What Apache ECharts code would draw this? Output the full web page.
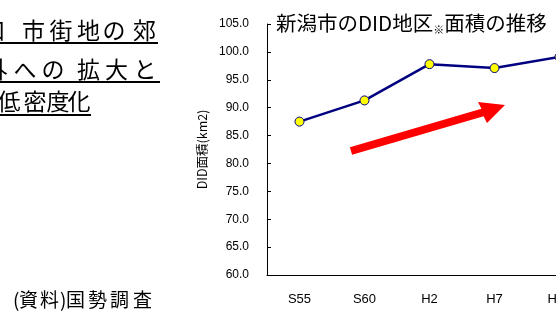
<!DOCTYPE html>
<html>
<head>
<meta charset="utf-8">
<script src="https://cdn.jsdelivr.net/npm/echarts@6/dist/echarts.min.js"></script>
<style>
  html, body { margin: 0; padding: 0; background: #fff; }
  #chart { width: 556px; height: 321px; }
</style>
</head>
<body>
<div id="chart"></div>
<script>
// DID area of Niigata city by census year
const years = ['S55', 'S60', 'H2', 'H7', 'H12'];
const didArea = [87.5, 91.3, 97.8, 97.1, 99.1];
const yTicks = { min: 60, max: 105, step: 5 };

const titleText = '新潟市のDID地区{s|※}面積の推移';
const yName = 'DID面積(km2)';
const sourceNote = '(資料)国勢調査';

const JP = '"Noto Sans CJK JP", sans-serif';
const LAT = '"Liberation Sans", Arial, sans-serif';

// headline, placed glyph by glyph: [char, centre x]
const headline = [
  { y: 30, chars: [['口', -6], ['市', 33.5], ['街', 61], ['地', 88.5], ['の', 114], ['郊', 144.5]], rule: [0, 158, 43] },
  { y: 69, chars: [['外', -4], ['へ', 25], ['の', 53], ['拡', 88.5], ['大', 116.5], ['と', 145]], rule: [0, 160, 82] },
  { y: 101, chars: [['低', 9], ['密', 35], ['度', 58], ['化', 79]], rule: [0, 91, 115] }
];

// source note, glyph by glyph: [char, left x]
const noteChars = [['(', 13], ['資', 19], ['料', 40], [')', 60], ['国', 66], ['勢', 88], ['調', 110], ['査', 133]];

const graphics = [];
headline.forEach(line => {
  line.chars.forEach(([ch, cx]) => {
    graphics.push({
      type: 'text', x: cx, y: line.y,
      style: { text: ch, font: '23px ' + JP, fill: '#000', textAlign: 'center', textVerticalAlign: 'middle' }
    });
  });
  graphics.push({
    type: 'line',
    shape: { x1: line.rule[0], y1: line.rule[2], x2: line.rule[1], y2: line.rule[2] },
    style: { stroke: '#000', lineWidth: 2 }
  });
});

noteChars.forEach(([ch, lx]) => {
  graphics.push({
    type: 'text', x: lx, y: 300,
    style: { text: ch, font: '19px ' + JP, fill: '#000', textAlign: 'left', textVerticalAlign: 'middle' }
  });
});

// trend arrow
graphics.push({
  type: 'polygon',
  shape: { points: [[349.9, 147.2], [481.4, 108.7], [478, 102], [505, 105], [487, 123], [483.6, 116.3], [352.1, 154.8]] },
  style: { fill: '#FF0000' },
  z: 10
});

const chart = echarts.init(document.getElementById('chart'));
chart.setOption({
  animation: false,
  backgroundColor: '#fff',
  title: {
    text: titleText,
    left: 271, top: 6,
    textStyle: {
      fontFamily: JP, fontSize: 20.5, fontWeight: 'normal', color: '#000',
      rich: { s: { fontFamily: JP, fontSize: 11, color: '#000', padding: [13, 0, 0, 0] } }
    }
  },
  grid: { left: 267, top: 24, width: 325, height: 251, containLabel: false, outerBoundsMode: 'none' },
  xAxis: {
    type: 'category',
    data: years,
    boundaryGap: true,
    axisLine: { lineStyle: { color: '#000', width: 1 } },
    axisTick: { inside: true, length: 4, lineStyle: { color: '#000' } },
    axisLabel: { color: '#000', fontFamily: LAT, fontSize: 13, margin: 18 },
    splitLine: { show: false }
  },
  yAxis: {
    type: 'value',
    min: yTicks.min, max: yTicks.max, interval: yTicks.step,
    name: yName,
    nameLocation: 'middle',
    nameGap: 54,
    nameRotate: 90,
    nameTextStyle: { fontFamily: JP, fontSize: 12.5, color: '#000' },
    axisLine: { show: true, lineStyle: { color: '#000', width: 1 } },
    axisTick: { show: true, inside: true, length: 4, lineStyle: { color: '#000' } },
    axisLabel: { color: '#000', fontFamily: LAT, fontSize: 12, margin: 18, formatter: v => v.toFixed(1) },
    splitLine: { show: false }
  },
  series: [{
    type: 'line',
    data: didArea,
    symbol: 'circle',
    symbolSize: 9,
    lineStyle: { color: '#000080', width: 2.5 },
    itemStyle: { color: '#FFFF00', borderColor: '#000080', borderWidth: 1 },
    clip: false
  }],
  graphic: graphics
});
</script>
</body>
</html>
